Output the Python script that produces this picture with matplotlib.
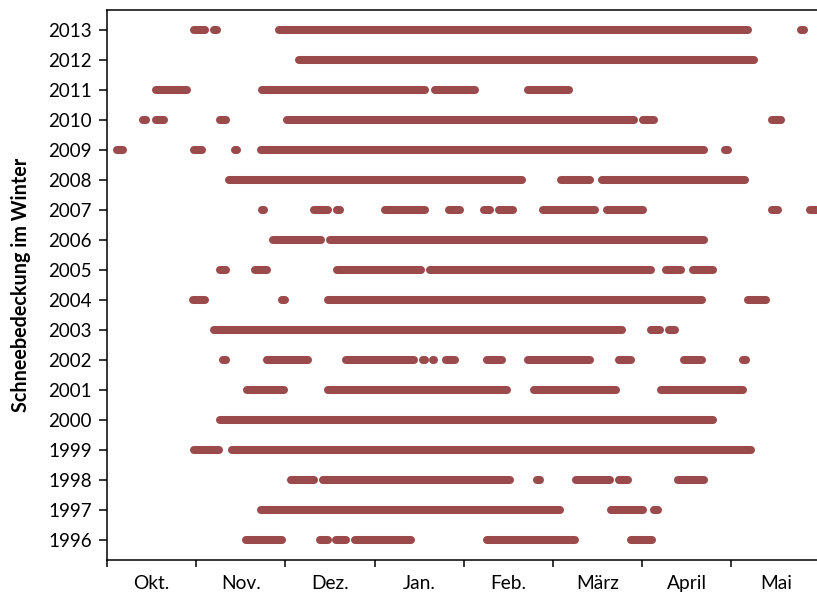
import matplotlib.pyplot as plt

# Tage seit 1. Oktober (Monate in der Grafik gleich breit, 30 Tage)
years = list(range(1996, 2014))

schnee = [
    [(46.8, 58.9), (71.6, 74.3), (77.0, 80.4), (83.4, 102.3), (127.8, 157.4), (176.3, 183.3)],  # 1996
    [(51.8, 152.4), (169.5, 180.3), (184.0, 185.3)],  # 1997
    [(61.9, 69.6), (72.7, 135.6), (144.6, 145.6), (157.8, 169.2), (172.2, 175.2), (192.1, 200.8)],  # 1998
    [(29.3, 37.7), (42.0, 216.6)],  # 1999
    [(38.0, 203.8)],  # 2000
    [(47.1, 59.5), (74.3, 134.5), (143.6, 171.2), (186.3, 213.9)],  # 2001
    [(39.0, 40.0), (53.8, 67.6), (80.4, 103.3), (106.3, 107.0), (109.7, 110.0), (114.0, 117.1),
     (127.8, 132.9), (141.6, 162.5), (172.2, 176.3), (194.1, 200.1), (213.9, 214.9)],  # 2002
    [(36.0, 173.2), (183.0, 186.0), (189.0, 191.1)],  # 2003
    [(28.9, 33.0), (58.9, 59.9), (74.3, 200.1), (215.6, 221.7)],  # 2004
    [(38.0, 40.0), (49.8, 53.8), (77.4, 105.6), (108.6, 183.0), (188.0, 193.1), (197.1, 203.8)],  # 2005
    [(55.8, 72.0), (75.0, 200.8)],  # 2006
    [(52.1, 52.8), (69.6, 74.3), (77.4, 78.4), (93.5, 107.0), (115.0, 118.7), (126.8, 128.8),
     (131.9, 136.6), (146.7, 164.1), (168.2, 180.3), (223.7, 225.7), (236.5, 240.0)],  # 2007
    [(41.0, 139.6), (152.7, 162.5), (166.5, 214.6)],  # 2008
    [(3.4, 5.4), (29.3, 32.0), (43.1, 43.7), (51.8, 200.8), (207.9, 208.9)],  # 2009
    [(12.1, 13.1), (16.5, 19.2), (38.0, 40.0), (60.5, 177.3), (180.3, 184.0), (223.7, 226.7)],  # 2010
    [(16.5, 26.9), (52.1, 107.0), (110.3, 123.8), (141.6, 155.4)],  # 2011
    [(64.6, 217.6)],  # 2012
    [(29.3, 33.0), (36.0, 37.0), (57.9, 215.6), (233.4, 234.4)],  # 2013
]

months = ["Okt.", "Nov.", "Dez.", "Jan.", "Feb.", "März", "April", "Mai"]
month_len = 30

plt.rcParams['font.family'] = ['Lato', 'DejaVu Sans']

fig = plt.figure(figsize=(8.17, 5.96), dpi=100)
ax = fig.add_axes([0.131, 0.0604, 0.869, 0.9228])

color = "#9B4A4B"
for yr, segs in zip(years, schnee):
    for a, b in segs:
        ax.plot([a, b], [yr, yr], color=color, lw=5.8, solid_capstyle="round", clip_on=True)

ax.set_xlim(0, 238.8)
ax.set_ylim(1995.333, 2013.667)

ax.set_yticks(years)
ax.set_yticklabels([str(y) for y in years], fontsize=13.5)

ax.set_xticks([i * month_len for i in range(len(months))])
ax.set_xticklabels([])
ax.set_xticks([i * month_len + month_len / 2 for i in range(len(months))], minor=True)
ax.set_xticklabels(months, minor=True, fontsize=13.8)
ax.tick_params(axis="x", which="minor", length=0, pad=11)
ax.tick_params(axis="x", which="major", length=5, width=1.1, direction="out")
ax.tick_params(axis="y", length=6, width=1.1, pad=5)

ax.spines["right"].set_visible(False)
for s in ["left", "bottom", "top"]:
    ax.spines[s].set_linewidth(1.1)

ax.set_ylabel("Schneebedeckung im Winter", fontsize=14.2, fontweight="bold", labelpad=12)

fig.savefig("out.png", dpi=100)
